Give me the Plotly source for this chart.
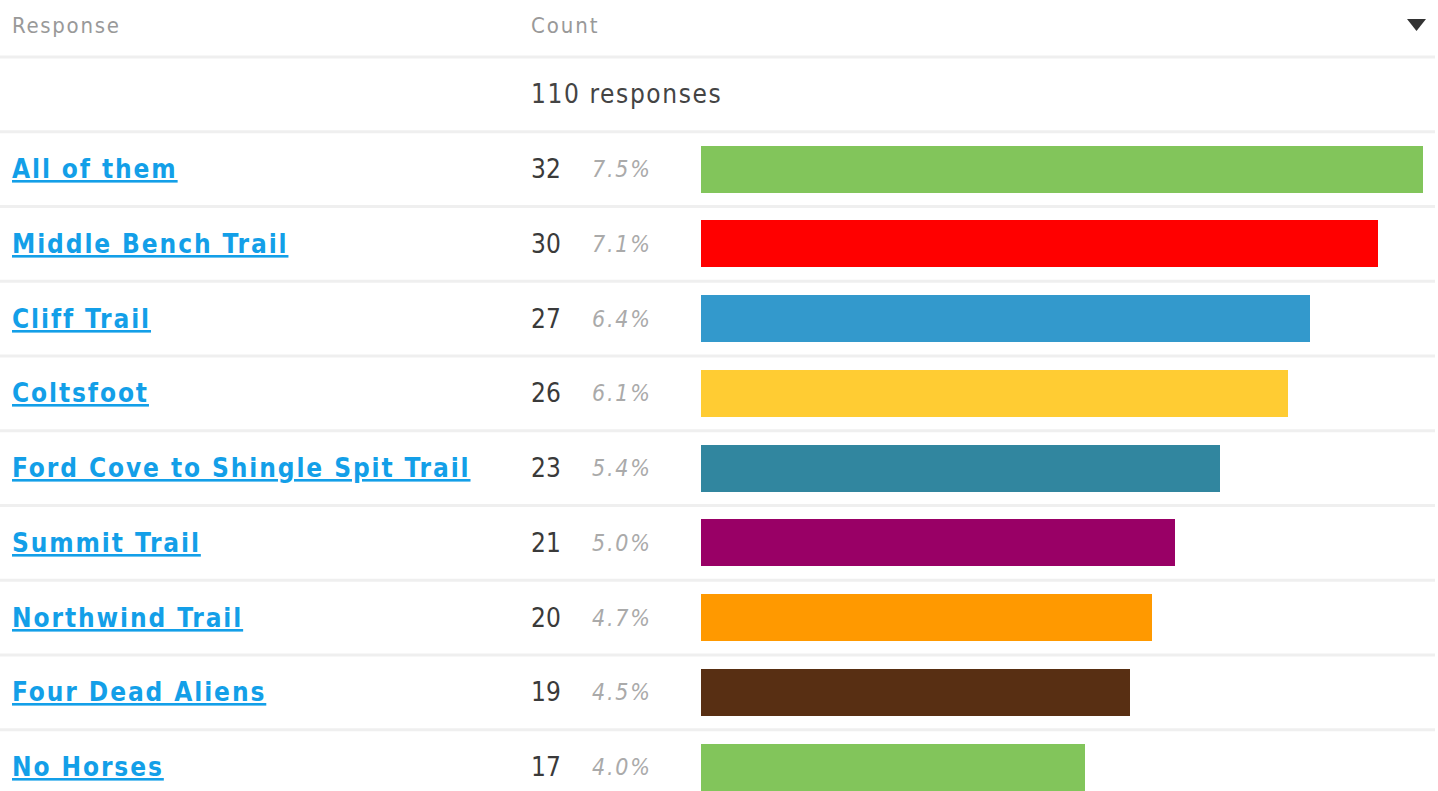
import plotly.graph_objects as go

# Survey results: trail preferences
responses = [
    "All of them",
    "Middle Bench Trail",
    "Cliff Trail",
    "Coltsfoot",
    "Ford Cove to Shingle Spit Trail",
    "Summit Trail",
    "Northwind Trail",
    "Four Dead Aliens",
    "No Horses",
]
counts = [32, 30, 27, 26, 23, 21, 20, 19, 17]
percents = ["7.5%", "7.1%", "6.4%", "6.1%", "5.4%", "5.0%", "4.7%", "4.5%", "4.0%"]
bar_colors = ["#82c55b", "#ff0000", "#3399cc", "#ffcc33", "#31869f",
              "#990066", "#ff9900", "#582f13", "#82c55b"]
total_responses = 110
headers = ["Response", "Count"]

W, H = 1438, 791
ROW_PITCH = 74.73
ROW0_CENTER = 169.2          # pixel centre of first row


def px_to_row(p):
    return (p - ROW0_CENTER) / ROW_PITCH


def spaced(text, ls):
    return f'<span style="letter-spacing:{ls}px">{text}</span>'


FONT = "DejaVu Sans Condensed, DejaVu Sans, sans-serif"
rows = list(range(len(responses)))

fig = go.Figure()
fig.add_trace(go.Bar(
    x=counts,
    y=rows,
    orientation="h",
    marker=dict(color=bar_colors, line=dict(width=0)),
    width=47 / ROW_PITCH,
    hoverinfo="skip",
))

annotations = []
# header row
annotations.append(dict(x=11 / W, y=px_to_row(25), text=spaced(headers[0], 1.7),
                        font=dict(family=FONT, size=22, color="#999999")))
annotations.append(dict(x=530 / W, y=px_to_row(25), text=spaced(headers[1], 1.9),
                        font=dict(family=FONT, size=22, color="#999999")))
annotations.append(dict(x=530 / W, y=px_to_row(94), text=spaced(f"{total_responses} responses", 1.6),
                        font=dict(family=FONT, size=26, color="#444444")))

for i, (lab, c, pct) in enumerate(zip(responses, counts, percents)):
    annotations.append(dict(x=11 / W, y=i, text=spaced(lab, 1.9),
                            font=dict(family=FONT, size=26, color="#139fe8",
                                      weight="bold", lineposition="under")))
    annotations.append(dict(x=530 / W, y=i, text=spaced(str(c), 0),
                            font=dict(family=FONT, size=26, color="#3a3a3a")))
    annotations.append(dict(x=591 / W, y=i, text=spaced(pct, 1.8),
                            font=dict(family=FONT, size=23, color="#aaaaaa", style="italic")))

for a in annotations:
    a.update(xref="paper", yref="y", xanchor="left", yanchor="middle",
             showarrow=False, borderpad=0)

shapes = []
# row separators
for k in range(-2, len(responses) - 1):
    yv = k + 0.5
    shapes.append(dict(type="line", xref="paper", yref="y",
                       x0=0, x1=1435 / W, y0=yv, y1=yv,
                       line=dict(color="#efefef", width=3)))
# sort menu triangle
shapes.append(dict(type="path", xref="paper", yref="paper",
                   path=f"M {1407 / W} {1 - 19 / H} L {1426 / W} {1 - 19 / H} "
                        f"L {1416.5 / W} {1 - 31 / H} Z",
                   fillcolor="#333333", line=dict(width=0)))

fig.update_layout(
    width=W, height=H,
    margin=dict(l=0, r=0, t=0, b=0),
    paper_bgcolor="white", plot_bgcolor="white",
    showlegend=False,
    xaxis=dict(domain=[701 / W, 1423 / W], range=[0, max(counts)],
               visible=False, fixedrange=True),
    yaxis=dict(domain=[0, 1], range=[px_to_row(H), px_to_row(0)],
               visible=False, fixedrange=True),
    annotations=annotations,
    shapes=shapes,
    bargap=0,
)

fig.write_html("out.html", config={"displayModeBar": False})
